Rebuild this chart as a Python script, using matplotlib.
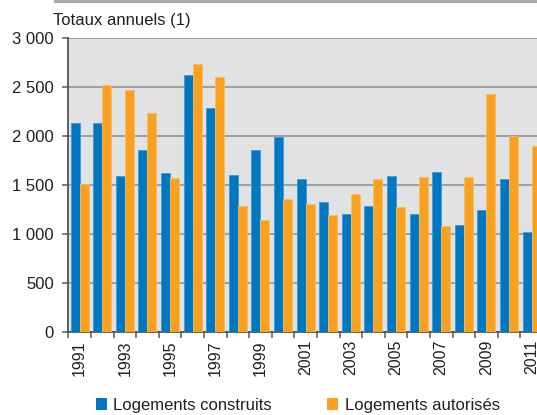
import matplotlib
matplotlib.use("Agg")
import matplotlib.pyplot as plt
from matplotlib.lines import Line2D
from matplotlib.patches import Patch
import numpy as np

plt.rcParams['font.family'] = ['Liberation Sans', 'DejaVu Sans']

years = list(range(1991, 2012))
construits = [2130, 2130, 1590, 1850, 1620, 2620, 2280, 1600, 1850, 1985,
              1560, 1320, 1200, 1280, 1590, 1200, 1625, 1090, 1240, 1560, 1020]
autorises = [1510, 2520, 2470, 2230, 1570, 2730, 2600, 1280, 1140, 1350,
             1300, 1190, 1410, 1560, 1270, 1575, 1075, 1578, 2425, 2000, 1890]
yticks = [0, 500, 1000, 1500, 2000, 2500, 3000]
ytick_labels = ["0", "500", "1 000", "1 500", "2 000", "2 500", "3 000"]
title = "Totaux annuels (1)"
labels = ["Logements construits", "Logements autorisés"]

blue = "#0078c1"
orange = "#f8a01f"
text_c = "#231f20"

W, H = 537, 415
fig = plt.figure(figsize=(W / 100, H / 100), dpi=100)
ax = fig.add_axes([68.3 / W, (H - 331.7) / H, 474.6 / W, (331.7 - 37.7) / H])
ax.set_facecolor("#e1e2e4")

x = np.arange(len(years))
w = 0.4
ax.bar(x - 0.2, construits, width=w, color=blue, edgecolor="#3d9ad6",
       linewidth=0.6, zorder=3)
ax.bar(x + 0.2, autorises, width=w, color=orange, edgecolor="#fbbd5e",
       linewidth=0.6, zorder=3)

ax.set_xlim(-0.5, len(years) - 0.5)
ax.set_ylim(0, 3000)
ax.set_yticks(yticks)
ax.set_yticklabels(ytick_labels)
ax.yaxis.grid(True, color="#98999b", linewidth=1.3, zorder=1)
ax.set_axisbelow(True)

ax.set_xticks(x[::2])
ax.set_xticklabels([str(y) for y in years[::2]], rotation=90, va="top",
                   fontsize=11.5)
ax.set_xticks(np.arange(-0.5, len(years) + 0.5, 1), minor=True)
ax.tick_params(axis="x", which="major", length=0, pad=6, labelcolor=text_c)
ax.tick_params(axis="x", which="minor", length=4.5, width=1.2, color="#666666")
ax.tick_params(axis="y", length=4.5, width=1.2, color="#666666", pad=6,
               labelsize=12, labelcolor=text_c)

for s in ["top", "right"]:
    ax.spines[s].set_visible(False)
for s in ["left", "bottom"]:
    ax.spines[s].set_color("#555555")
    ax.spines[s].set_linewidth(1.3)

fig.text(53.3 / W, (H - 21) / H, title, fontsize=12, color=text_c,
         ha="left", va="center")

fig.add_artist(Line2D([55 / W, 1.0], [(H - 1) / H, (H - 1) / H],
                      color="#a7a8aa", linewidth=2.2))

handles = [Patch(facecolor=blue, edgecolor="none"),
           Patch(facecolor=orange, edgecolor="none")]
fig.legend(handles, labels, loc="center", bbox_to_anchor=(297.7 / W, (H - 405) / H),
           ncol=2, frameon=False, fontsize=12, handlelength=0.65,
           handleheight=0.75, handletextpad=0.4, columnspacing=3.3,
           borderpad=0, labelcolor=text_c)

fig.savefig("out.png", dpi=100)
